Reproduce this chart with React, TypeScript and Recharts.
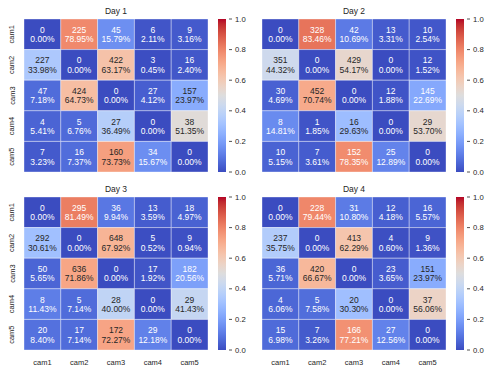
import React from 'react';
import {
  ScatterChart, Scatter, XAxis, YAxis, ReferenceArea,
  BarChart, Bar,
} from 'recharts';

const CAMS = ['cam1', 'cam2', 'cam3', 'cam4', 'cam5'];
const DAYS = ['Day 1', 'Day 2', 'Day 3', 'Day 4'];

const DAY1_COUNTS = [[0, 225, 45, 6, 9], [227, 0, 422, 3, 16], [47, 424, 0, 27, 157], [4, 5, 27, 0, 38], [7, 16, 160, 34, 0]];
const DAY1_PCTS = [[0, 78.95, 15.79, 2.11, 3.16], [33.98, 0, 63.17, 0.45, 2.4], [7.18, 64.73, 0, 4.12, 23.97], [5.41, 6.76, 36.49, 0, 51.35], [3.23, 7.37, 73.73, 15.67, 0]];

const DAY2_COUNTS = [[0, 328, 42, 13, 10], [351, 0, 429, 0, 12], [30, 452, 0, 12, 145], [8, 1, 16, 0, 29], [10, 7, 152, 25, 0]];
const DAY2_PCTS = [[0, 83.46, 10.69, 3.31, 2.54], [44.32, 0, 54.17, 0, 1.52], [4.69, 70.74, 0, 1.88, 22.69], [14.81, 1.85, 29.63, 0, 53.7], [5.15, 3.61, 78.35, 12.89, 0]];

const DAY3_COUNTS = [[0, 295, 36, 13, 18], [292, 0, 648, 5, 9], [50, 636, 0, 17, 182], [8, 5, 28, 0, 29], [20, 17, 172, 29, 0]];
const DAY3_PCTS = [[0, 81.49, 9.94, 3.59, 4.97], [30.61, 0, 67.92, 0.52, 0.94], [5.65, 71.86, 0, 1.92, 20.56], [11.43, 7.14, 40.0, 0, 41.43], [8.4, 7.14, 72.27, 12.18, 0]];

const DAY4_COUNTS = [[0, 228, 31, 12, 16], [237, 0, 413, 4, 9], [36, 420, 0, 23, 151], [4, 5, 20, 0, 37], [15, 7, 166, 27, 0]];
const DAY4_PCTS = [[0, 79.44, 10.8, 4.18, 5.57], [35.75, 0, 62.29, 0.6, 1.36], [5.71, 66.67, 0, 3.65, 23.97], [6.06, 7.58, 30.3, 0, 56.06], [6.98, 3.26, 77.21, 12.56, 0]];

const CBAR_TICKS = [0, 0.2, 0.4, 0.6, 0.8, 1.0];
const CBAR_RANGE = [{ name: 'cbar', v: 1 }];

// matplotlib coolwarm, sampled every 1/32
const COOLWARM: number[][] = [
  [59, 76, 192], [68, 90, 204], [77, 104, 215], [87, 117, 225], [98, 130, 234], [108, 142, 241],
  [119, 154, 247], [130, 165, 251], [141, 176, 254], [152, 185, 255], [163, 194, 255], [174, 201, 253],
  [184, 208, 249], [194, 213, 244], [204, 217, 238], [213, 219, 230], [221, 221, 221], [229, 216, 209],
  [236, 211, 197], [241, 204, 184], [245, 196, 172], [247, 187, 159], [247, 177, 147], [247, 166, 134],
  [244, 154, 123], [241, 141, 111], [236, 127, 99], [229, 112, 88], [222, 96, 77], [213, 80, 66],
  [203, 62, 56], [192, 40, 47], [180, 4, 38],
];

const FONT = '"Liberation Sans", Arial, sans-serif';
const DARK = '#262626';

function cmap(t: number): number[] {
  const v = Math.max(0, Math.min(1, t)) * (COOLWARM.length - 1);
  const i = Math.min(Math.floor(v), COOLWARM.length - 2);
  const f = v - i;
  return COOLWARM[i].map((c, k) => Math.round(c + (COOLWARM[i + 1][k] - c) * f));
}

const rgb = (c: number[]) => `rgb(${c[0]},${c[1]},${c[2]})`;

// same rule seaborn uses to pick annotation colour
function luminance(c: number[]) {
  const lin = c.map((x) => {
    const s = x / 255;
    return s <= 0.03928 ? s / 12.92 : Math.pow((s + 0.055) / 1.055, 2.4);
  });
  return 0.2126 * lin[0] + 0.7152 * lin[1] + 0.0722 * lin[2];
}

const CellText = (props: any) => {
  const { cx, cy, payload } = props;
  const col = cmap(payload.pct / 100);
  const fill = luminance(col) > 0.408 ? DARK : '#ffffff';
  return (
    <g>
      <text x={cx} y={cy - 4.6} textAnchor="middle" dominantBaseline="central" fontSize={8.5} fontFamily={FONT} fill={fill}>
        {payload.count}
      </text>
      <text x={cx} y={cy + 4.8} textAnchor="middle" dominantBaseline="central" fontSize={8.5} fontFamily={FONT} fill={fill}>
        {payload.pct.toFixed(2)}%
      </text>
    </g>
  );
};

const YTick = (props: any) => {
  const { y, payload } = props;
  return (
    <text x={12} y={y} transform={`rotate(-90 12 ${y})`} textAnchor="middle" dominantBaseline="central" fontSize={7.5} fontFamily={FONT} fill={DARK}>
      {CAMS[Math.floor(payload.value)]}
    </text>
  );
};

const XTick = (props: any) => {
  const { x, y, payload } = props;
  return (
    <text x={x} y={y + 4} textAnchor="middle" dominantBaseline="central" fontSize={7.5} fontFamily={FONT} fill={DARK}>
      {CAMS[Math.floor(payload.value)]}
    </text>
  );
};

const CbarTick = (props: any) => {
  const { x, y, payload } = props;
  return (
    <g>
      <line x1={x - 5} x2={x - 2} y1={y} y2={y} stroke={DARK} strokeWidth={0.8} />
      <text x={x + 1} y={y} textAnchor="start" dominantBaseline="central" fontSize={7.7} fontFamily={FONT} fill={DARK}>
        {payload.value.toFixed(1)}
      </text>
    </g>
  );
};

interface PanelProps {
  title: string;
  counts: number[][];
  pcts: number[][];
  left: number;
  top: number;
  showX: boolean;
  showY: boolean;
}

function HeatPanel({ title, counts, pcts, left, top, showX, showY }: PanelProps) {
  const cells = counts.flatMap((row, r) =>
    row.map((count, c) => ({ x: c + 0.5, y: r + 0.5, row: r, col: c, count, pct: pcts[r][c] }))
  );
  const plotLeft = showY ? 24 : 12;
  const ticks = CAMS.map((_, i) => i + 0.5);

  return (
    <>
      <div style={{ position: 'absolute', left: left + plotLeft, top: top + 6, width: 184, textAlign: 'center', fontFamily: FONT, fontSize: 8.5, color: DARK }}>
        {title}
      </div>
      <div style={{ position: 'absolute', left, top }}>
        <ScatterChart width={215} height={197} margin={{ top: 19, right: 215 - plotLeft - 184, bottom: showX ? 5 : 25, left: showY ? 0 : 12 }}>
          <XAxis type="number" dataKey="x" domain={[0, 5]} ticks={ticks} hide={!showX} height={20}
            axisLine={false} tickLine={false} tick={<XTick />} />
          <YAxis type="number" dataKey="y" domain={[0, 5]} reversed ticks={ticks} hide={!showY} width={24}
            axisLine={false} tickLine={false} tick={<YTick />} />
          {cells.map((d) => (
            <ReferenceArea key={`${d.row}-${d.col}`} x1={d.col} x2={d.col + 1} y1={d.row} y2={d.row + 1}
              fill={rgb(cmap(d.pct / 100))} fillOpacity={1} stroke="#ffffff" strokeOpacity={0.6} strokeWidth={0.6} />
          ))}
          <Scatter data={cells} shape={<CellText />} isAnimationActive={false} />
        </ScatterChart>
      </div>
      <div style={{ position: 'absolute', left: left + plotLeft + 194, top }}>
        <BarChart width={50} height={197} data={CBAR_RANGE} barCategoryGap={0}
          margin={{ top: 19, right: 0, bottom: 25, left: 0 }}>
          <XAxis dataKey="name" hide />
          <YAxis orientation="right" domain={[0, 1]} ticks={CBAR_TICKS} width={42} axisLine={false}
            tickLine={false} tick={<CbarTick />} />
          <Bar dataKey="v" fill="url(#coolwarm-grad)" isAnimationActive={false} />
        </BarChart>
      </div>
    </>
  );
}

export default function App() {
  return (
    <div style={{ position: 'absolute', left: 0, top: 0, width: 500, height: 375, background: '#ffffff', overflow: 'hidden' }}>
      <svg width={0} height={0} style={{ position: 'absolute' }}>
        <defs>
          <linearGradient id="coolwarm-grad" x1="0" y1="1" x2="0" y2="0">
            {COOLWARM.map((c, i) => (
              <stop key={i} offset={i / (COOLWARM.length - 1)} stopColor={rgb(c)} />
            ))}
          </linearGradient>
        </defs>
      </svg>
      <HeatPanel title={DAYS[0]} counts={DAY1_COUNTS} pcts={DAY1_PCTS} left={0} top={0} showX={false} showY />
      <HeatPanel title={DAYS[1]} counts={DAY2_COUNTS} pcts={DAY2_PCTS} left={250} top={0} showX={false} showY={false} />
      <HeatPanel title={DAYS[2]} counts={DAY3_COUNTS} pcts={DAY3_PCTS} left={0} top={178} showX showY />
      <HeatPanel title={DAYS[3]} counts={DAY4_COUNTS} pcts={DAY4_PCTS} left={250} top={178} showX showY={false} />
    </div>
  );
}
